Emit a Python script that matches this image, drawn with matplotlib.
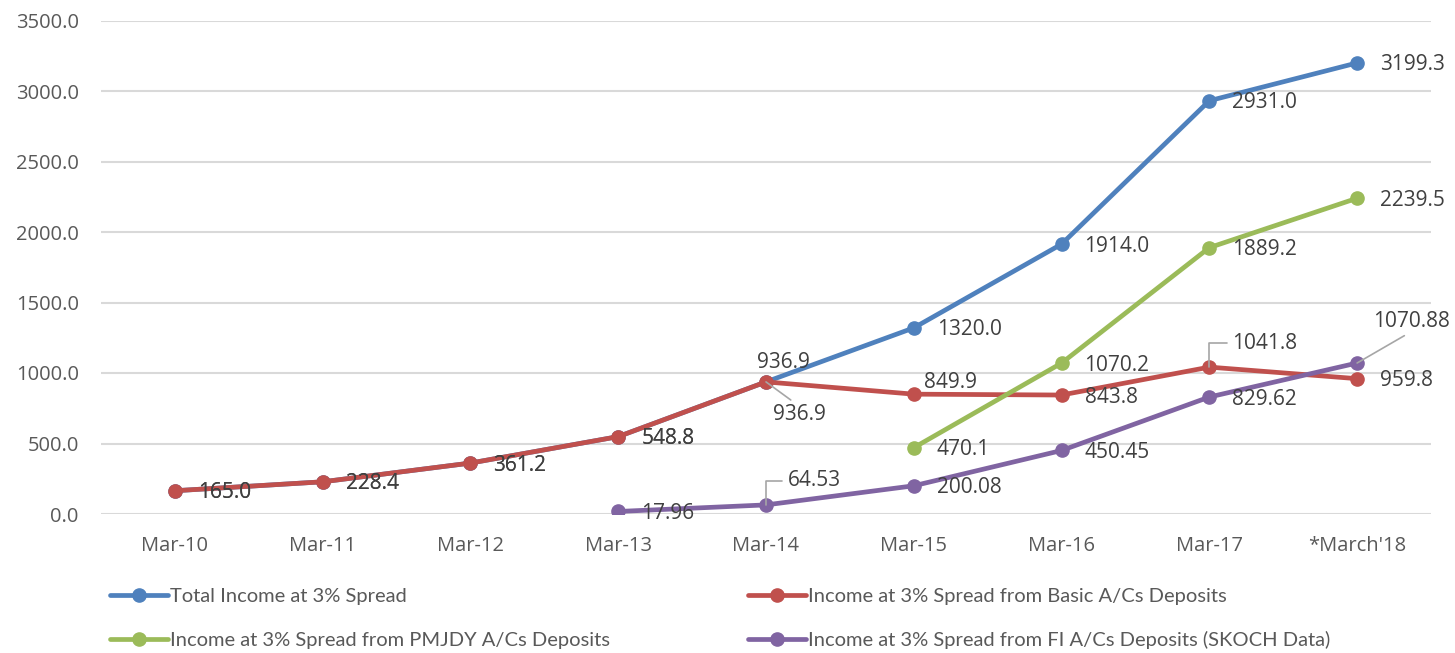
import matplotlib
matplotlib.use("Agg")
import matplotlib.pyplot as plt
import numpy as np

categories = ['Mar-10', 'Mar-11', 'Mar-12', 'Mar-13', 'Mar-14', 'Mar-15', 'Mar-16', 'Mar-17', "*March'18"]
total = [165.0, 228.4, 361.2, 548.8, 936.9, 1320.0, 1914.0, 2931.0, 3199.3]
basic = [165.0, 228.4, 361.2, 548.8, 936.9, 849.9, 843.8, 1041.8, 959.8]
pmjdy = [None, None, None, None, None, 470.1, 1070.2, 1889.2, 2239.5]
fi = [None, None, None, 17.96, 64.53, 200.08, 450.45, 829.62, 1070.88]

names = ['Total Income at 3% Spread',
         'Income at 3% Spread from Basic A/Cs Deposits',
         'Income at 3% Spread from PMJDY A/Cs Deposits',
         'Income at 3% Spread from FI A/Cs Deposits (SKOCH Data)']
colors = ['#4F81BD', '#C0504D', '#9BBB59', '#8064A2']
fmts = ['{:.1f}', '{:.1f}', '{:.1f}', '{:.2f}']
series = [total, basic, pmjdy, fi]

FONT = ['Open Sans', 'DejaVu Sans']
LEGFONT = ['Lato', 'DejaVu Sans']

fig = plt.figure(figsize=(14.55, 6.53), dpi=100)
W, H = 1455, 653
ax = fig.add_axes([101 / W, 1 - 514 / H, (1431 - 101) / W, (514 - 20.5) / H])

x = np.arange(len(categories))
handles = []
for vals, c, name in zip(series, colors, names):
    xs = [xi for xi, v in zip(x, vals) if v is not None]
    ys = [v for v in vals if v is not None]
    h, = ax.plot(xs, ys, color=c, lw=3.4, marker='o', ms=9.5, solid_capstyle='round',
                 label=name, zorder=3)
    handles.append(h)

# label offsets (pixels: dx right, dy down), default right of point
special = {
    (0, 4): (-9, -19, None),
    (1, 4): (7, 33, 'diag_top'),
    (1, 5): (10, -12, None),
    (1, 7): (23, -24, 'L'),
    (3, 4): (22, -24, 'L'),
    (3, 8): (16, -42, 'diag_bottom'),
}
for si, (vals, fmt) in enumerate(zip(series, fmts)):
    for xi, v in zip(x, vals):
        if v is None:
            continue
        dx, dy, lead = special.get((si, xi), (23, 2, None))
        kw = {}
        if lead == 'L':
            kw['arrowprops'] = dict(arrowstyle='-', color='#a6a6a6', lw=1.2,
                                    connectionstyle='angle,angleA=0,angleB=90,rad=0',
                                    relpos=(0, 0.5), shrinkA=2, shrinkB=0)
        elif lead == 'diag_top':
            kw['arrowprops'] = dict(arrowstyle='-', color='#a6a6a6', lw=1.2,
                                    relpos=(0.45, 1), shrinkA=2, shrinkB=0)
        elif lead == 'diag_bottom':
            kw['arrowprops'] = dict(arrowstyle='-', color='#a6a6a6', lw=1.2,
                                    relpos=(0.5, 0), shrinkA=2, shrinkB=0)
        ax.annotate(fmt.format(v), xy=(xi, v), xytext=(dx, -dy), textcoords='offset pixels',
                    ha='left', va='center', fontsize=15, color='#404040',
                    family=FONT, zorder=4, **kw)

ax.set_xlim(-0.5, len(categories) - 0.5)
ax.set_ylim(0, 3500)
ax.set_yticks(np.arange(0, 3501, 500))
ax.set_yticklabels(['{:.1f}'.format(t) for t in np.arange(0, 3501, 500)])
ax.set_xticks(x)
ax.set_xticklabels(categories)
for lab in ax.get_xticklabels() + ax.get_yticklabels():
    lab.set_family(FONT)
    lab.set_fontsize(14.5)
    lab.set_color('#595959')
ax.tick_params(axis='both', length=0)
ax.tick_params(axis='x', pad=16)
ax.tick_params(axis='y', pad=16)
for s in ax.spines.values():
    s.set_visible(False)
ax.grid(axis='y', color='#d9d9d9', lw=1.5)
ax.set_axisbelow(True)

leg_kw = dict(loc='center left', frameon=False, borderaxespad=0, borderpad=0,
              handlelength=2.9, handletextpad=0.1, labelspacing=1.3,
              prop={'family': LEGFONT, 'size': 14.5}, labelcolor='#595959')
fig.legend([handles[0], handles[2]], [names[0], names[2]],
           bbox_to_anchor=(110 / W, 1 - 618.5 / H), **leg_kw)
fig.legend([handles[1], handles[3]], [names[1], names[3]],
           bbox_to_anchor=(748 / W, 1 - 618.5 / H), **leg_kw)

fig.savefig('out.png', dpi=100)
